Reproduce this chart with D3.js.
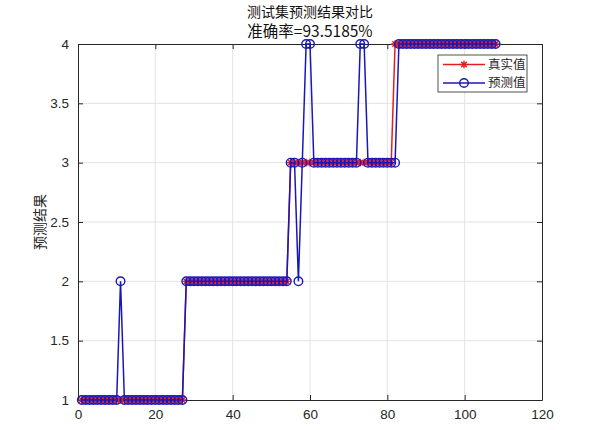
<!DOCTYPE html>
<html>
<head>
<meta charset="utf-8">
<script src="https://cdn.jsdelivr.net/npm/d3@7"></script>
<style>
  body { margin: 0; background: #fff; }
  .tick text { font-family: "Liberation Sans", Arial, sans-serif; font-size: 13.5px; fill: #262626; }
  .cn { font-family: "Noto Sans CJK SC", sans-serif; }
</style>
</head>
<body>
<script>
// test set: true class vs predicted class for each sample
let trueVals = [
  1,1,1,1,1,1,1,1,1,1, 1,1,1,1,1,1,1,1,1,1, 1,1,1,1,1,1,1,
  2,2,2,2,2,2,2,2,2,2, 2,2,2,2,2,2,2,2,2,2, 2,2,2,2,2,2,2,
  3,3,3,3,3,3,3,3,3,3, 3,3,3,3,3,3,3,3,3,3, 3,3,3,3,3,3,3,
  4,4,4,4,4,4,4,4,4,4, 4,4,4,4,4,4,4,4,4,4, 4,4,4,4,4,4,4
];
let predVals = [
  1,1,1,1,1,1,1,1,1,1, 2,1,1,1,1,1,1,1,1,1, 1,1,1,1,1,1,1,
  2,2,2,2,2,2,2,2,2,2, 2,2,2,2,2,2,2,2,2,2, 2,2,2,2,2,2,2,
  3,3,2,3,4,4,3,3,3,3, 3,3,3,3,3,3,3,3,4,4, 3,3,3,3,3,3,3,
  3,4,4,4,4,4,4,4,4,4, 4,4,4,4,4,4,4,4,4,4, 4,4,4,4,4,4,4
];
let xTicks = [0, 20, 40, 60, 80, 100, 120];
let yTicks = [1, 1.5, 2, 2.5, 3, 3.5, 4];
let legendNames = ["真实值", "预测值"];
let titleLines = ["测试集预测结果对比", "准确率=93.5185%"];

let margin = {top: 44, right: 58, bottom: 30, left: 78};
let width = 600 - margin.left - margin.right;
let height = 430 - margin.top - margin.bottom;

let red = "#e3201e", blue = "#1818b8";

let x = d3.scaleLinear().domain([0, 120]).range([0, width]);
let y = d3.scaleLinear().domain([1, 4]).range([height, 0]);

let svg = d3.select("body").append("svg")
    .attr("width", 600)
    .attr("height", 430)
  .append("g")
    .attr("transform", "translate(" + margin.left + "," + margin.top + ")");

// grid
svg.append("g").selectAll("line").data(xTicks.slice(1, -1)).enter().append("line")
  .attr("x1", d => x(d)).attr("x2", d => x(d))
  .attr("y1", 0).attr("y2", height)
  .attr("stroke", "#e3e3e3");
svg.append("g").selectAll("line").data(yTicks.slice(1, -1)).enter().append("line")
  .attr("x1", 0).attr("x2", width)
  .attr("y1", d => y(d)).attr("y2", d => y(d))
  .attr("stroke", "#e3e3e3");

// axes, ticks pointing inward like matlab
svg.append("g")
  .attr("transform", "translate(0," + height + ")")
  .call(d3.axisBottom(x).tickValues(xTicks).tickSize(-5).tickPadding(9).tickSizeOuter(0));
svg.append("g")
  .call(d3.axisLeft(y).tickValues(yTicks).tickSize(-5).tickPadding(9).tickSizeOuter(0)
    .tickFormat(d3.format("")));
svg.append("g")
  .call(d3.axisTop(x).tickValues(xTicks).tickSize(-5).tickFormat("").tickSizeOuter(0));
svg.append("g")
  .attr("transform", "translate(" + width + ",0)")
  .call(d3.axisRight(y).tickValues(yTicks).tickSize(-5).tickFormat("").tickSizeOuter(0));
svg.selectAll(".domain, .tick line").attr("stroke", "#262626");

let line = d3.line()
  .x((d, i) => x(i + 1))
  .y(d => y(d));

// asterisk marker path
function star(cx, cy, r) {
  let p = "";
  for (let k = 0; k < 4; k++) {
    let a = k * Math.PI / 4;
    let dx = r * Math.cos(a), dy = r * Math.sin(a);
    p += "M" + (cx - dx) + "," + (cy - dy) + "L" + (cx + dx) + "," + (cy + dy);
  }
  return p;
}

// true values (red, asterisks)
svg.append("path").datum(trueVals)
  .attr("d", line).attr("fill", "none").attr("stroke", red).attr("stroke-width", 1.5);
svg.append("g").selectAll("path").data(trueVals).enter().append("path")
  .attr("d", (d, i) => star(x(i + 1), y(d), 3.8))
  .attr("stroke", red).attr("stroke-width", 1.4);

// predicted values (blue, circles)
svg.append("path").datum(predVals)
  .attr("d", line).attr("fill", "none").attr("stroke", blue).attr("stroke-width", 1.5);
svg.append("g").selectAll("circle").data(predVals).enter().append("circle")
  .attr("cx", (d, i) => x(i + 1)).attr("cy", d => y(d)).attr("r", 4.3)
  .attr("fill", "none").attr("stroke", blue).attr("stroke-width", 1.4);

// title
svg.append("g").selectAll("text").data(titleLines).enter().append("text")
  .attr("class", "cn")
  .attr("x", width / 2).attr("y", (d, i) => -27 + i * 20)
  .attr("text-anchor", "middle")
  .style("font-size", (d, i) => i ? "15.5px" : "14px").style("fill", "#111")
  .text(d => d);

// y label
svg.append("text")
  .attr("class", "cn")
  .attr("transform", "translate(-33," + (height / 2) + ") rotate(-90)")
  .attr("text-anchor", "middle")
  .style("font-size", "14px").style("fill", "#262626")
  .text("预测结果");

// legend
let lg = svg.append("g").attr("transform", "translate(" + (width - 104) + ",11)");
lg.append("rect").attr("width", 89).attr("height", 37)
  .attr("fill", "#fff").attr("stroke", "#262626").attr("stroke-width", 0.8);
let colors = [red, blue];
legendNames.forEach(function(name, i) {
  let ly = 9.5 + i * 18.5;
  lg.append("line").attr("x1", 5).attr("x2", 47).attr("y1", ly).attr("y2", ly)
    .attr("stroke", colors[i]).attr("stroke-width", 1.5);
  if (i === 0) {
    lg.append("path").attr("d", star(26, ly, 3.8)).attr("stroke", red).attr("stroke-width", 1.4);
  } else {
    lg.append("circle").attr("cx", 26).attr("cy", ly).attr("r", 4.3)
      .attr("fill", "none").attr("stroke", blue).attr("stroke-width", 1.4);
  }
  lg.append("text").attr("class", "cn")
    .attr("x", 50).attr("y", ly).attr("dy", "0.35em")
    .style("font-size", "12.5px").style("fill", "#262626")
    .text(name);
});
</script>
</body>
</html>
